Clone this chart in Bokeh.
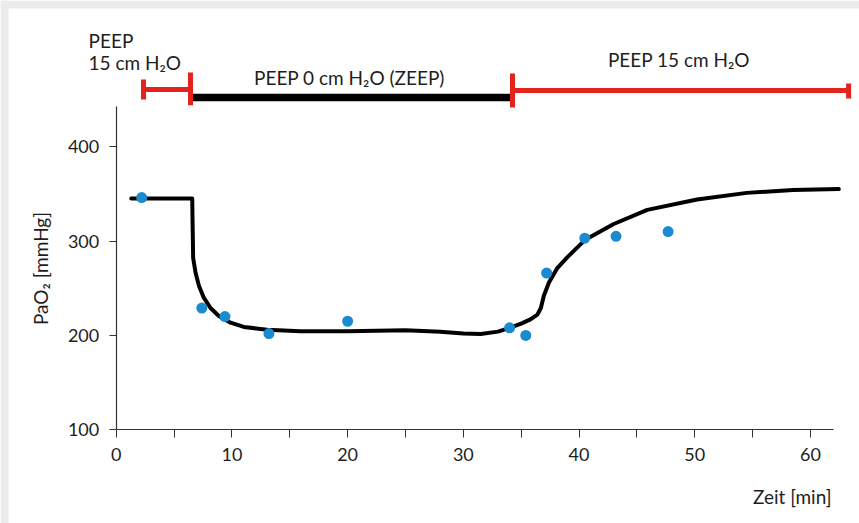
from math import pi
from bokeh.plotting import figure
from bokeh.models import Range1d, FixedTicker, Label, BoxAnnotation
from bokeh.embed import file_html
from bokeh.resources import INLINE

# ---- data ----
time_pts = [2.2, 7.4, 9.4, 13.2, 20.0, 34.0, 35.4, 37.2, 40.5, 43.2, 47.7]
pao2_pts = [346, 229, 220, 202, 215, 208, 200, 266, 303, 305, 310]

curve_t = [1.3, 6.57, 6.6, 6.65, 6.85, 7.14, 7.57, 8.15, 8.87, 9.88, 11.03, 13.05,
           15.9, 20.0, 25.0, 28.0, 30.0, 31.5, 33.0, 34.0, 35.0, 35.8, 36.4, 36.7,
           36.96, 37.4, 38.1, 39.0, 40.5, 43.0, 45.9, 50.2, 54.5, 58.5, 62.45]
curve_p = [345, 345, 320, 282, 267, 253, 240, 229, 220.5, 213.5, 209, 206,
           204.5, 204.5, 205.5, 204, 202, 201.5, 204, 208, 212.5, 217, 222, 229,
           242, 256, 271, 283, 301, 318, 333, 344, 351, 354, 355]

# PEEP phases (start, end in minutes)
phase_names = ["PEEP 15 cm H\u2082O", "PEEP 0 cm H\u2082O (ZEEP)", "PEEP 15 cm H\u2082O"]
phase_start = [2.36, 6.42, 34.25]
phase_end = [6.42, 34.25, 63.3]
phase_level = [460.5, 452, 459.5]
phase_colors = ["#e3231c", "#000000", "#e3231c"]
phase_widths = [5, 7.5, 5]

# bracket end caps
cap_x = [2.36, 6.42, 34.25, 63.3]
cap_lo = [450, 443.7, 441.5, 451]
cap_hi = [471, 478.6, 477.5, 467]

x_major = [0, 10, 20, 30, 40, 50, 60]
x_minor = [5, 15, 25, 35, 45, 55]
y_major = [100, 200, 300, 400]

FONT = "Lato"
TXT = "#1e1e1e"
AX = "#333333"

X0, X1 = -10.0, 64.24
Y0, Y1 = 0.74, 554.8

p = figure(width=859, height=523, output_backend="svg", toolbar_location=None,
           x_range=Range1d(X0, X1), y_range=Range1d(Y0, Y1),
           min_border_left=0, min_border_right=0, min_border_top=0,
           min_border_bottom=0)
p.outline_line_color = None
p.grid.visible = False
p.background_fill_color = "white"
p.border_fill_color = "white"

# grey frame of the original panel (top and left strips)
p.add_layout(BoxAnnotation(right=X0 + 8 / 11.57, fill_color="#ebebeb", fill_alpha=1,
                           line_color=None, level="underlay"))
p.add_layout(BoxAnnotation(bottom=Y1 - 8 / 0.944, fill_color="#ebebeb", fill_alpha=1,
                           line_color=None, level="underlay"))

# axes
xa = p.xaxis[0]
xa.ticker = FixedTicker(ticks=x_major, minor_ticks=x_minor)
xa.bounds = (0, 62)
xa.fixed_location = 100
ya = p.yaxis[0]
ya.ticker = FixedTicker(ticks=y_major, minor_ticks=[])
ya.bounds = (100, 442)
ya.fixed_location = 0
for ax in (xa, ya):
    ax.axis_line_color = AX
    ax.axis_line_width = 1.2
    ax.major_tick_line_color = AX
    ax.minor_tick_line_color = AX
    ax.major_tick_in = 0
    ax.minor_tick_in = 0
    ax.major_label_text_font = FONT
    ax.major_label_text_font_size = "18px"
    ax.major_label_text_color = TXT
    ax.major_label_standoff = 10
xa.major_tick_out = 8
xa.minor_tick_out = 8
ya.major_tick_out = 7
ya.minor_tick_out = 0

# phase bars
p.segment(x0=phase_start, y0=phase_level, x1=phase_end, y1=phase_level,
          line_color=phase_colors, line_width=phase_widths)
p.segment(x0=cap_x, y0=cap_lo, x1=cap_x, y1=cap_hi,
          line_color="#e3231c", line_width=5)

# curve and measurements
p.line(curve_t, curve_p, line_color="black", line_width=4, line_join="round",
       line_cap="round")
p.scatter(time_pts, pao2_pts, size=11, fill_color="#1a8bd0", line_color=None)

def lab(x, y, text, align="left", baseline="alphabetic", angle=0, size="19px"):
    p.add_layout(Label(x=x, y=y, text=text, text_font=FONT, text_font_size=size,
                       text_color=TXT, text_align=align, text_baseline=baseline,
                       angle=angle))

lab(-2.39, 512.9, "PEEP")
lab(-2.39, 489.1, phase_names[0].replace("PEEP ", ""))
lab(20.16, 472.9, phase_names[1], align="center")
lab(48.64, 492.3, phase_names[2], align="center")
lab(61.82, 29.8, "Zeit [min]", align="right", size="19px")
lab(-6.55, 270.9, "PaO\u2082 [mmHg]", align="center", baseline="middle",
    angle=pi / 2, size="19px")

open("out.html", "w").write(file_html(p, INLINE))
